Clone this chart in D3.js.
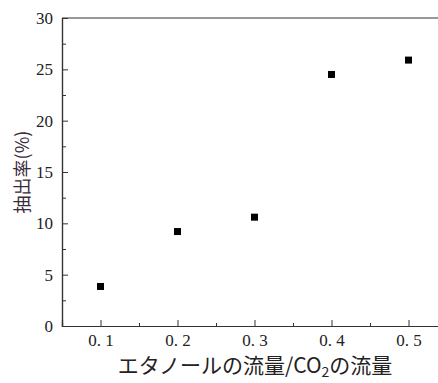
<!DOCTYPE html>
<html>
<head>
<meta charset="utf-8">
<script src="https://cdn.jsdelivr.net/npm/d3@7"></script>
<style>
  body { margin: 0; background: #fff; }
  text { fill: #222; }
  .tick text { font-family: "Liberation Serif", "DejaVu Serif", serif; font-size: 17px; }
</style>
</head>
<body>
<div id="chart"></div>
<script>
// datos
const ratios = [0.1, 0.2, 0.3, 0.4, 0.5];
const yields = [3.85, 9.2, 10.6, 24.5, 25.9];
const xTicks = [0.1, 0.2, 0.3, 0.4, 0.5];
const xTickLabels = ["0. 1", "0. 2", "0. 3", "0. 4", "0. 5"];
const yTicks = [0, 5, 10, 15, 20, 25, 30];

const width = 438, height = 383;
const mLeft = 62, mTop = 18, mBottom = 326;

const svg = d3.select("#chart").append("svg")
    .attr("width", width)
    .attr("height", height);

const x = d3.scaleLinear().domain([0.05, 0.55]).range([mLeft, mLeft + 385]);
const y = d3.scaleLinear().domain([0, 30]).range([mBottom, mTop]);

// ejes con ticks hacia dentro
const xAxis = d3.axisBottom(x)
    .tickValues(xTicks)
    .tickSize(-6)
    .tickFormat((d, i) => xTickLabels[i]);
const xMinor = d3.axisBottom(x)
    .tickValues([0.15, 0.25, 0.35, 0.45])
    .tickSize(-3)
    .tickFormat("");

const yAxis = d3.axisLeft(y)
    .tickValues(yTicks)
    .tickSize(-6)
    .tickFormat(d3.format("d"));
const yMinor = d3.axisLeft(y)
    .tickValues([2.5, 7.5, 12.5, 17.5, 22.5, 27.5])
    .tickSize(-4)
    .tickFormat("");

const gx = svg.append("g").attr("transform", `translate(0,${mBottom})`).call(xAxis);
svg.append("g").attr("transform", `translate(0,${mBottom})`).call(xMinor);
const gy = svg.append("g").attr("transform", `translate(${mLeft},0)`).call(yAxis);
svg.append("g").attr("transform", `translate(${mLeft},0)`).call(yMinor);

svg.selectAll("g").attr("font-family", null).attr("font-size", null);
svg.selectAll(".domain").attr("stroke", "#333").attr("stroke-width", 1.2);
svg.selectAll(".tick line").attr("stroke", "#333");

gx.selectAll("text")
    .attr("y", 8)
    .style("white-space", "pre")
    .attr("fill", "#222");
gy.selectAll("text")
    .attr("x", -9)
    .attr("fill", "#222");

// linea superior
svg.append("line")
    .attr("x1", mLeft).attr("x2", width)
    .attr("y1", y(30)).attr("y2", y(30))
    .attr("stroke", "#333").attr("stroke-width", 1.2);

// puntos
svg.selectAll("rect.pt")
    .data(ratios)
    .enter()
    .append("rect")
    .attr("class", "pt")
    .attr("x", d => x(d) - 3.5)
    .attr("y", (d, i) => y(yields[i]) - 3.5)
    .attr("width", 7)
    .attr("height", 7)
    .attr("fill", "#000");

// titulos
svg.append("text")
    .attr("transform", "translate(29,172) rotate(-90)")
    .attr("text-anchor", "middle")
    .style("font-family", "'Noto Sans CJK JP', sans-serif")
    .style("font-size", "18px")
    .style("fill", "#3a2a3a")
    .text("抽出率(%)");

const xt = svg.append("text")
    .attr("x", 255)
    .attr("y", 373)
    .attr("text-anchor", "middle")
    .style("font-family", "'Noto Sans CJK JP', sans-serif")
    .style("font-size", "21px");
xt.append("tspan").text("エタノールの流量/CO");
xt.append("tspan").attr("dy", 4).style("font-size", "14px").text("2");
xt.append("tspan").attr("dy", -4).text("の流量");
</script>
</body>
</html>
